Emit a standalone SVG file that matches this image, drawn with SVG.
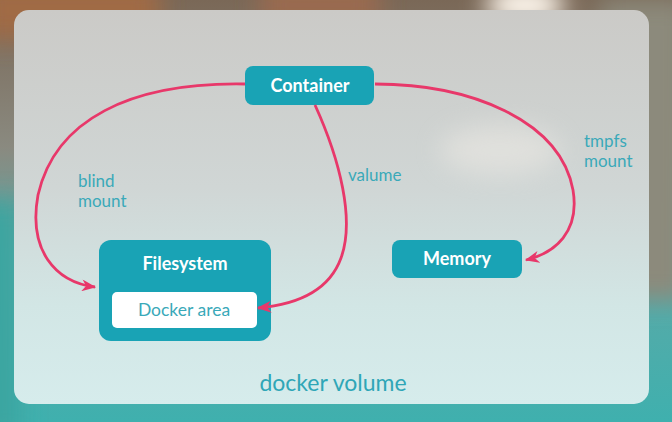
<svg xmlns="http://www.w3.org/2000/svg" width="672" height="422" viewBox="0 0 672 422">
<defs>
<linearGradient id="bg" x1="0" y1="0" x2="0" y2="1">
<stop offset="0" stop-color="#7a6857"/>
<stop offset="0.35" stop-color="#8a8a80"/>
<stop offset="0.6" stop-color="#5ea8a6"/>
<stop offset="1" stop-color="#3fb0ae"/>
</linearGradient>
<linearGradient id="panel" x1="0" y1="0" x2="0" y2="1">
<stop offset="0" stop-color="#cbcac7"/>
<stop offset="0.45" stop-color="#d0d6d5"/>
<stop offset="0.75" stop-color="#d2e6e5"/>
<stop offset="1" stop-color="#d6ecec"/>
</linearGradient>
<filter id="blur" x="-50%" y="-50%" width="200%" height="200%"><feGaussianBlur stdDeviation="12"/></filter>
<marker id="ah" viewBox="0 0 12 10" refX="11" refY="5" markerWidth="15" markerHeight="12" markerUnits="userSpaceOnUse" orient="auto">
<path d="M0,0 L12,5 L0,10 L3.5,5 z" fill="#e8386a"/>
</marker>
<style>
.node{fill:#19a3b5}
.lbl{font-family:Lato,"Open Sans",sans-serif;font-size:18px;font-weight:bold;fill:#ffffff;text-anchor:middle}
.elbl{font-family:Lato,"Open Sans",sans-serif;font-size:17px;fill:#3aa9b9}
.edge{fill:none;stroke:#e8386a;stroke-width:2.8;marker-end:url(#ah)}
</style>
</defs>
<rect x="0" y="0" width="672" height="422" fill="url(#bg)"/>
<g filter="url(#blur)">
<rect x="-20" y="-20" width="180" height="60" fill="#a06a45"/>
<rect x="260" y="-20" width="120" height="50" fill="#9a6a50"/>
<ellipse cx="525" cy="5" rx="40" ry="20" fill="#fff8ee"/>
<rect x="600" y="0" width="90" height="300" fill="#8c8a7c"/>
<rect x="-20" y="200" width="40" height="240" fill="#3aa5a0"/>
</g>
<rect x="14" y="10" width="635" height="394" rx="15" fill="url(#panel)"/>
<g filter="url(#blur)" opacity="0.5">
<ellipse cx="500" cy="150" rx="60" ry="25" fill="#f0ece6"/>
</g>
<g id="container">
<rect class="node" x="245" y="66" width="129" height="39" rx="8"/>
<text class="lbl" x="310" y="92">Container</text>
</g>
<g id="filesystem">
<rect class="node" x="99" y="240" width="172" height="101" rx="12"/>
<text class="lbl" x="185" y="270">Filesystem</text>
</g>
<g id="docker-area">
<rect x="112" y="292" width="145" height="36" rx="5" fill="#ffffff"/>
<text class="lbl" x="184" y="316" style="fill:#3aa9b9;font-weight:normal;font-size:17.5px">Docker area</text>
</g>
<g id="memory">
<rect class="node" x="392" y="240" width="130" height="38" rx="8"/>
<text class="lbl" x="457" y="265">Memory</text>
</g>
<g id="connectors">
<path class="edge" d="M245,84 C130,82 55,120 38,195 C28,250 55,282 95,287"/>
<path class="edge" d="M315,105 C340,160 355,220 341,258 C328,294 292,305 258,308"/>
<path class="edge" d="M375,84 C470,84 560,120 573,190 C580,232 555,253 526,260"/>
</g>
<g id="labels">
<text class="elbl" x="78" y="187">blind</text>
<text class="elbl" x="78" y="207">mount</text>
<text class="elbl" x="348" y="181">valume</text>
<text class="elbl" x="584" y="147">tmpfs</text>
<text class="elbl" x="584" y="167">mount</text>
<text x="333" y="391" style="font-family:Lato,'Open Sans',sans-serif;font-size:23px;fill:#2fa6b7;text-anchor:middle">docker volume</text>
</g>
</svg>
